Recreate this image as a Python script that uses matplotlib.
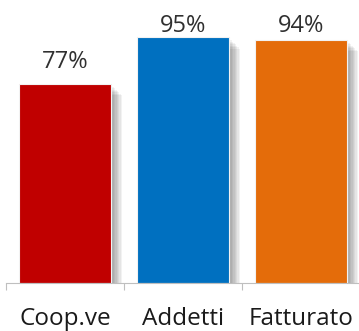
import matplotlib
matplotlib.use("Agg")
import matplotlib.pyplot as plt
import matplotlib.patheffects as pe

categories = ["Coop.ve", "Addetti", "Fatturato"]
values = [77, 95, 94]
colors = ["#C00000", "#0070C0", "#E46C0A"]

plt.rcParams['font.family'] = ['Open Sans', 'DejaVu Sans']

fig = plt.figure(figsize=(3.59, 3.31), dpi=100)
ax = fig.add_axes([6 / 359, 48 / 331, 354 / 359, 283 / 331])

x = range(len(categories))
# soft shadow approximated by a few stacked offsets
shadow = [pe.SimplePatchShadow(offset=(d, -d), shadow_rgbFace='black', alpha=0.05)
          for d in (2, 3, 4, 5, 6, 7, 8)]
bars = ax.bar(x, values, width=0.78, color=colors, edgecolor='#f2f2f2', linewidth=0.8,
              path_effects=shadow + [pe.Normal()])

# labels sit above the bar but are held under the top of the plot area
for b, v in zip(bars, values):
    ax.text(b.get_x() + b.get_width() / 2, min(v + 6.3, 97), f"{v}%",
            ha='center', va='baseline', fontsize=17, color='#303030')

ax.set_xlim(-0.5, 2.5)
ax.set_ylim(0, 109.5)
ax.set_xticks(list(x))
ax.set_xticklabels(categories, fontsize=17.5, color='#1a1a1a')
ax.set_xticks([-0.5, 0.5, 1.5, 2.5], minor=True)
ax.tick_params(axis='x', which='major', length=0, pad=17)
ax.tick_params(axis='x', which='minor', length=5, color='#bfbfbf', width=0.8)
ax.set_yticks([])
for s in ['top', 'right', 'left']:
    ax.spines[s].set_visible(False)
ax.spines['bottom'].set_color('#bfbfbf')
ax.spines['bottom'].set_linewidth(0.8)

fig.savefig("out.png", dpi=100)
